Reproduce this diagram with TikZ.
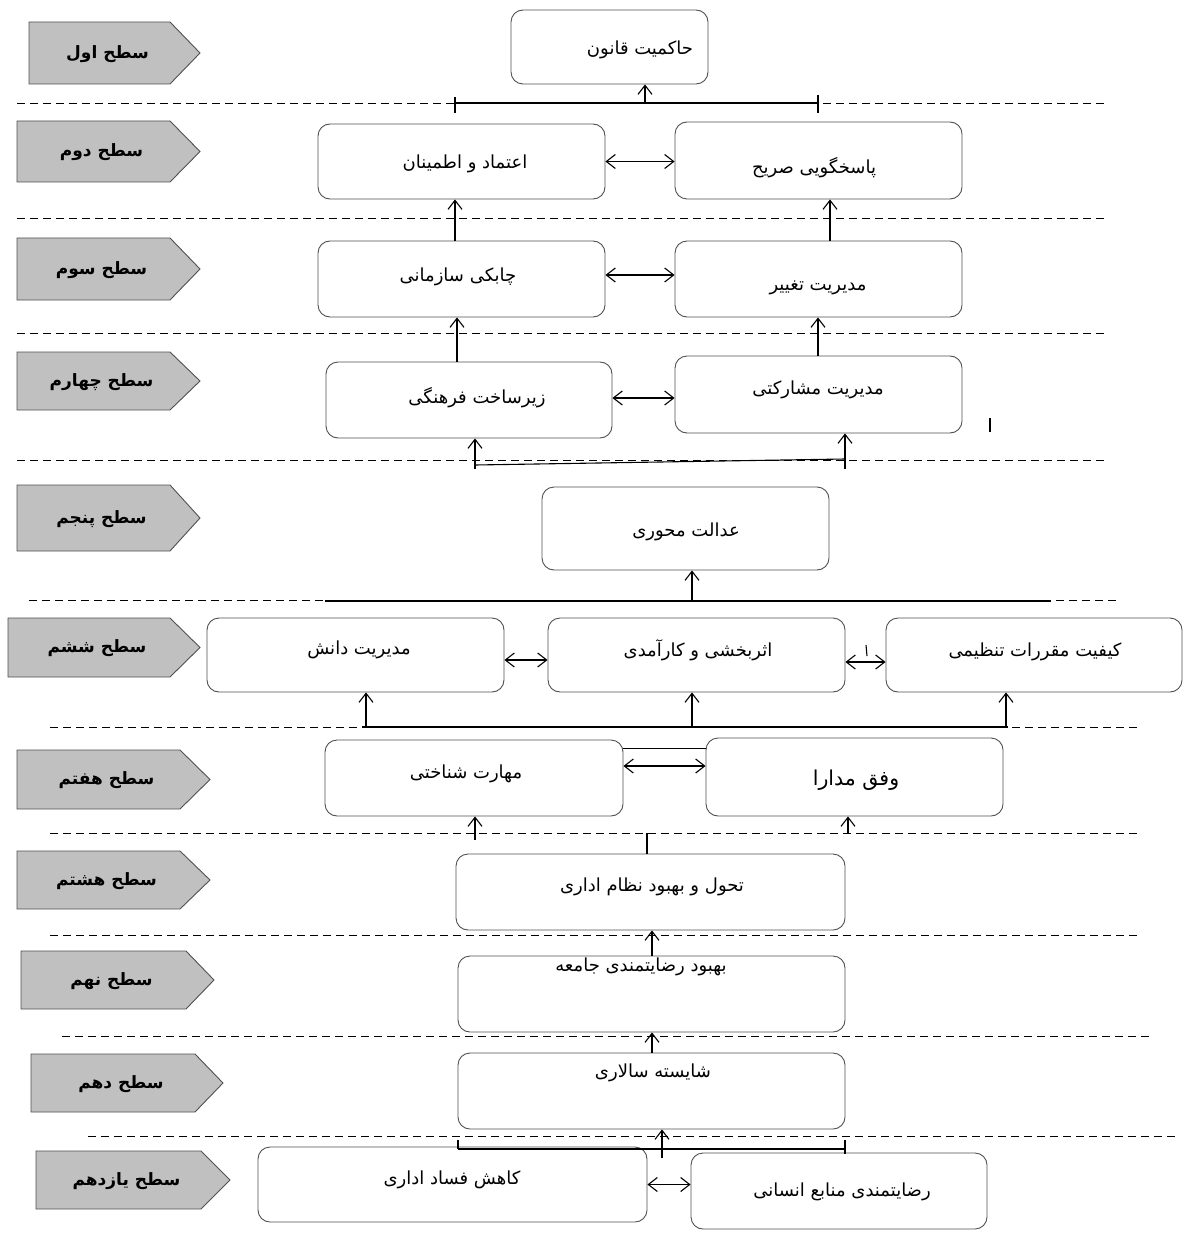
\documentclass[tikz,border=0pt]{standalone}
\usepackage{fontspec}
\usetikzlibrary{arrows.meta,calc}
\TeXXeTstate=1
\newfontfamily\fa[Script=Arabic]{DejaVu Sans}
\definecolor{lvlgray}{RGB}{192,192,192}
\definecolor{boxline}{RGB}{80,80,80}
\tikzset{
  box/.style={draw=boxline, line width=0.9pt, rounded corners=12pt, fill=white, inner sep=0pt},
  lvl/.style={draw=boxline, fill=lvlgray, line width=0.9pt},
  txt/.style={font=\fa\fontsize{18}{21}\selectfont, inner sep=0pt, yshift=-2pt},
  bigtxt/.style={font=\fa\fontsize{20.5}{24}\selectfont, inner sep=0pt, yshift=-2pt},
  lvltxt/.style={font=\fa\bfseries\fontsize{17}{20}\selectfont, inner sep=0pt, yshift=-1pt},
  ln/.style={line width=1.1pt, black},
  arr/.style={line width=1.1pt, black, -{Straight Barb[length=9pt,width=14pt,line width=1.1pt]}},
  darr/.style={line width=1.1pt, black, {Straight Barb[length=9pt,width=14pt,line width=1.1pt]}-{Straight Barb[length=9pt,width=14pt,line width=1.1pt]}},
  sep/.style={line width=0.9pt, black, dash pattern=on 8pt off 5pt},
}
\begin{document}
\begin{tikzpicture}[x=1pt,y=-1pt]
\useasboundingbox (0,0) rectangle (1183,1233);

% ---- dashed level separators
\foreach \yy/\xa/\xb in {103/17/1108, 218/17/1108, 333/17/1108, 460/17/1108, 600/29/1118, 727/50/1140, 833/50/1138, 935/50/1138, 1036/62/1150, 1136/88/1175}
  \draw[sep] (\xa,\yy) -- (\xb,\yy);

% ---- level labels (pentagons)
\foreach \n/\L/\R/\T/\top/\bot/\lab in {
  1/29/170/200/22/84/{سطح اول},
  2/17/170/200/121/182/{سطح دوم},
  3/17/170/200/238/300/{سطح سوم},
  4/17/170/200/352/410/{سطح چهارم},
  5/17/170/200/485/551/{سطح پنجم},
  6/8/170/200/618/677/{سطح ششم},
  7/17/180/210/750/809/{سطح هفتم},
  8/17/180/210/851/909/{سطح هشتم},
  9/21/186/214/951/1009/{سطح نهم},
  10/31/195/223/1054/1112/{سطح دهم},
  11/36/201/230/1151/1209/{سطح یازدهم}}{
  \draw[lvl] (\L,\top) -- (\R,\top) -- (\T,{(\top+\bot)/2}) -- (\R,\bot) -- (\L,\bot) -- cycle;
  \node[lvltxt] (lv\n) at ({(\L+\R)/2+8},{(\top+\bot)/2}) {\beginR\lab\endR};
}

% ---- boxes
\node[box, minimum width=197pt, minimum height=74pt] (b1) at (609.5,47) {};
\node[box, minimum width=287pt, minimum height=75pt] (b2a) at (461.5,161.5) {};
\node[box, minimum width=287pt, minimum height=77pt] (b2b) at (818.5,160.5) {};
\node[box, minimum width=287pt, minimum height=76pt] (b3a) at (461.5,279) {};
\node[box, minimum width=287pt, minimum height=76pt] (b3b) at (818.5,279) {};
\node[box, minimum width=286pt, minimum height=76pt] (b4a) at (469,400) {};
\node[box, minimum width=287pt, minimum height=77pt] (b4b) at (818.5,394.5) {};
\node[box, minimum width=287pt, minimum height=83pt] (b5) at (685.5,528.5) {};
\node[box, minimum width=297pt, minimum height=74pt] (b6a) at (355.5,655) {};
\node[box, minimum width=297pt, minimum height=74pt] (b6b) at (696.5,655) {};
\node[box, minimum width=296pt, minimum height=74pt] (b6c) at (1034,655) {};
\node[box, minimum width=298pt, minimum height=76pt] (b7a) at (474,778) {};
\node[box, minimum width=297pt, minimum height=78pt] (b7b) at (854.5,777) {};
\node[box, minimum width=389pt, minimum height=76pt] (b8) at (650.5,892) {};
\node[box, minimum width=387pt, minimum height=76pt] (b9) at (651.5,994) {};
\node[box, minimum width=387pt, minimum height=76pt] (b10) at (651.5,1091) {};
\node[box, minimum width=389pt, minimum height=75pt] (b11a) at (452.5,1184.5) {};
\node[box, minimum width=296pt, minimum height=76pt] (b11b) at (839,1191) {};

% ---- box texts
\node[txt] (t1) at (640,48) {\beginR حاکمیت قانون\endR};
\node[txt] (t2a) at (465,162) {\beginR اعتماد و اطمینان\endR};
\node[txt] (t2b) at (814,166) {\beginR پاسخگویی صریح\endR};
\node[txt] (t3a) at (458,275) {\beginR چابکی سازمانی\endR};
\node[txt] (t3b) at (818,286) {\beginR مدیریت تغییر\endR};
\node[txt] (t4a) at (477,396) {\beginR زیرساخت فرهنگی\endR};
\node[txt] (t4b) at (818,388) {\beginR مدیریت مشارکتی\endR};
\node[txt] (t5) at (686,530) {\beginR عدالت محوری\endR};
\node[txt] (t6a) at (359,648) {\beginR مدیریت دانش\endR};
\node[txt] (t6b) at (698,648) {\beginR اثربخشی و کارآمدی\endR};
\node[txt] (t6c) at (1035,650) {\beginR کیفیت مقررات تنظیمی\endR};
\node[txt] (t7a) at (466,772) {\beginR مهارت شناختی\endR};
\node[bigtxt] (t7b) at (856,778) {\beginR وفق مدارا\endR};
\node[txt] (t8) at (652,885) {\beginR تحول و بهبود نظام اداری\endR};
\node[txt] (t9) at (641,965) {\beginR بهبود رضایتمندی جامعه\endR};
\node[txt] (t10) at (653,1071) {\beginR شایسته سالاری\endR};
\node[txt] (t11a) at (452,1178) {\beginR کاهش فساد اداری\endR};
\node[txt] (t11b) at (842,1190) {\beginR رضایتمندی منابع انسانی\endR};

% ---- level 1-2
\coordinate (bus1L) at (455,103);
\coordinate (bus1R) at (818,103);
\coordinate (bus1M) at (645,103);
\draw[ln] (bus1L) -- (bus1R);
\draw[ln] ([yshift=6pt]bus1L) -- ([yshift=-10pt]bus1L);
\draw[ln] ([yshift=8pt]bus1R) -- ([yshift=-10pt]bus1R);
\draw[arr] (bus1M) -- (bus1M |- b1.south);

% ---- level 2
\coordinate (d2) at (b2a.east);
\draw[darr] (d2) -- (d2 -| b2b.west);

% ---- level 3 -> 2
\draw[arr] ([xshift=-6.5pt]b3a.north) -- ([xshift=-6.5pt]b2a.south);
\draw[arr] ([xshift=11.5pt]b3b.north) -- ([xshift=11.5pt]b2b.south);
\coordinate (d3) at ([yshift=4pt]b3a.east);
\draw[darr] (d3) -- (d3 -| b3b.west);

% ---- level 4 -> 3
\coordinate (c43a) at ([xshift=-12pt]b4a.north);
\draw[arr] (c43a) -- (c43a |- b3a.south);
\coordinate (c43b) at ([xshift=-0.5pt]b4b.north);
\draw[arr] (c43b) -- (c43b |- b3b.south);
\coordinate (d4) at ([yshift=2pt]b4a.east);
\draw[darr] (d4) -- (d4 -| b4b.west);
\draw[ln] (990,418) -- (990,432);

% ---- level 5 -> 4
\coordinate (bus4L) at (475,465);
\coordinate (bus4R) at (845,459);
\draw[ln] (bus4L) -- (bus4R);
\draw[arr] ([yshift=-4pt]bus4L) -- (bus4L |- b4a.south);
\draw[arr] ([yshift=-10pt]bus4R) -- (bus4R |- b4b.south);

% ---- level 6 -> 5
\coordinate (bus5L) at (325,601);
\coordinate (bus5R) at (1051,601);
\coordinate (bus5M) at (692,601);
\draw[ln] (bus5L) -- (bus5R);
\draw[arr] (bus5M) -- (bus5M |- b5.south);

% ---- level 6
\coordinate (d6a) at ([yshift=-5pt]b6a.east);
\draw[darr] (d6a) -- (d6a -| b6b.west);
\coordinate (d6b) at ([yshift=-7pt]b6b.east);
\draw[darr] (d6b) -- (d6b -| b6c.west);
\draw[ln] (866,645) -- (867,656);

% ---- level 7 -> 6
\coordinate (bus6L) at (362,727);
\coordinate (bus6R) at (1008,727);
\coordinate (bus6a) at (366,727);
\coordinate (bus6b) at (692,727);
\coordinate (bus6c) at (1006,727);
\draw[ln] (bus6L) -- (bus6R);
\draw[arr] (bus6a) -- (bus6a |- b6a.south);
\draw[arr] (bus6b) -- (bus6b |- b6b.south);
\draw[arr] (bus6c) -- (bus6c |- b6c.south);

% ---- level 7
\coordinate (l7) at ([yshift=-9pt]b7a.north east);
\draw[ln] (l7) -- (l7 -| b7b.west);
\coordinate (d7) at ([yshift=12pt]b7a.east);
\draw[darr] (d7) -- (d7 -| b7b.west);

% ---- level 8 -> 7
\coordinate (c87a) at (475,840);
\coordinate (c87b) at (848,833);
\coordinate (c87m) at (647,833);
\draw[arr] (c87a) -- (c87a |- b7a.south);
\draw[arr] (c87b) -- (c87b |- b7b.south);
\draw[ln] (c87m |- b8.north) -- (c87m);

% ---- level 9 -> 8, 10 -> 9
\coordinate (c98) at ([xshift=0.5pt]b9.north);
\draw[arr] (c98) -- (c98 |- b8.south);
\coordinate (c109) at ([xshift=0.5pt]b10.north);
\draw[arr] (c109) -- (c109 |- b9.south);

% ---- level 11 -> 10
\coordinate (bus10L) at (458,1149);
\coordinate (bus10R) at (845,1149);
\coordinate (c1110) at (662,1158);
\draw[ln] (bus10L) -- (bus10R);
\draw[ln] ([yshift=9pt]bus10L) -- (bus10L);
\draw[ln] ([yshift=9pt]bus10R) -- ([yshift=-5pt]bus10R);
\draw[arr] (c1110) -- (c1110 |- b10.south);

% ---- level 11
\coordinate (d11) at (b11a.east);
\draw[darr] (d11) -- (d11 -| b11b.west);
\end{tikzpicture}
\end{document}
